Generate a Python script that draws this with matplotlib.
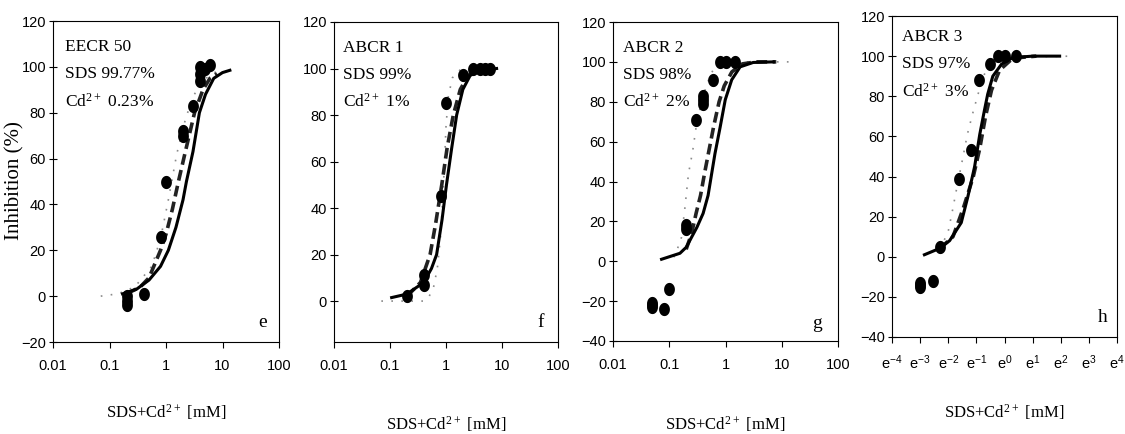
import numpy as np
import matplotlib
matplotlib.use('Agg')
import matplotlib.pyplot as plt
from matplotlib.path import Path
from matplotlib.ticker import FixedLocator, FuncFormatter, NullLocator

plt.rcParams['font.family'] = 'Liberation Sans'
plt.rcParams['mathtext.default'] = 'regular'
SERIF = 'Liberation Serif'

# ---- panel e : EECR 50 ----
e_pts_x = [0.2, 0.2, 0.2, 0.4, 0.8, 1.0, 2.0, 2.0, 3.0, 4.0, 4.0, 4.0, 5.0, 6.0]
e_pts_y = [0, -2, -4, 1, 26, 50, 70, 72, 83, 94, 97, 100, 99, 101]
e_sol_x = [0.17, 0.3, 0.5, 0.8, 1.1, 1.5, 2.0, 2.3, 3.0, 3.9, 5, 7, 10, 13.5]
e_sol_y = [1, 3, 7, 13, 20, 30, 42, 50, 63, 80, 88, 95, 97.5, 98.5]
e_dash_x = [0.2, 0.35, 0.5, 0.8, 1.0, 1.3, 1.66, 2.2, 3.2, 4.5, 6, 8]
e_dash_y = [1, 4, 8, 20, 27, 38, 50, 63, 80, 90, 95, 97]
e_dot_x = [0.07, 0.14, 0.28, 0.56, 0.8, 1.1, 1.55, 2.2, 3.0, 4.5, 6.5, 8]
e_dot_y = [0, 1, 4, 13, 25, 42, 62, 77, 87, 94, 97, 98]

# ---- panel f : ABCR 1 ----
f_pts_x = [0.2, 0.4, 0.4, 0.8, 1.0, 2.0, 3.0, 4.0, 5.0, 6.0]
f_pts_y = [2, 11, 7, 45, 85, 97, 100, 100, 100, 100]
f_sol_x = [0.107, 0.2, 0.4, 0.55, 0.68, 0.85, 1.02, 1.25, 1.55, 2.0, 2.7, 4, 8]
f_sol_y = [1.5, 3, 8, 14, 20, 35, 50, 65, 80, 91, 97, 99, 100]
f_dash_x = [0.2, 0.35, 0.52, 0.65, 0.84, 1.05, 1.35, 1.8, 2.5, 4, 7]
f_dash_y = [2, 8, 20, 33, 50, 66, 80, 91, 97, 99.5, 100]
f_dot_x = [0.07, 0.12, 0.2, 0.3, 0.4, 0.5, 0.6, 0.7, 0.8, 0.88, 0.95, 1.0, 1.1, 1.3, 1.8, 3]
f_dot_y = [0, 0, 0, 0, 0, 2, 6, 14, 28, 45, 62, 75, 88, 96, 99.5, 100]

# ---- panel g : ABCR 2 ----
g_pts_x = [0.05, 0.05, 0.05, 0.08, 0.1, 0.2, 0.2, 0.3, 0.4, 0.4, 0.4, 0.6, 0.8, 1.0, 1.5]
g_pts_y = [-21, -22, -23, -24, -14, 18, 16, 71, 79, 81, 83, 91, 100, 100, 100]
g_sol_x = [0.073, 0.155, 0.2, 0.31, 0.40, 0.49, 0.65, 0.80, 0.99, 1.29, 1.82, 3.1, 7.1]
g_sol_y = [1, 4, 7, 17, 24, 33, 54, 67, 81, 91, 97.5, 99.7, 100]
g_dash_x = [0.2, 0.25, 0.3, 0.36, 0.43, 0.52, 0.62, 0.77, 0.95, 1.3, 2, 3.5, 8]
g_dash_y = [6, 14, 24, 33, 45, 57, 68, 80, 88, 95, 99, 100, 100]
g_dot_x = [0.12, 0.135, 0.165, 0.19, 0.22, 0.26, 0.31, 0.40, 0.53, 0.69, 1.8, 16]
g_dot_y = [2, 5, 12, 27, 44, 55, 70, 83, 93, 99, 100, 100]

# ---- panel h : ABCR 3 ----
h_pts_x = [0.05, 0.05, 0.05, 0.08, 0.1, 0.2, 0.3, 0.4, 0.6, 0.8, 1.0, 1.5]
h_pts_y = [-13, -14, -15, -12, 5, 39, 53, 88, 96, 100, 100, 100]
h_sol_x = [0.058, 0.097, 0.142, 0.215, 0.272, 0.346, 0.415, 0.49, 0.55, 0.66, 0.90, 1.35, 2.75, 7.1]
h_sol_y = [1, 4, 8, 17, 30, 45, 61, 73, 81, 90, 96, 99.3, 100, 100]
h_dash_x = [0.1, 0.16, 0.23, 0.33, 0.415, 0.51, 0.63, 0.84, 1.35, 3.1]
h_dash_y = [4, 10, 24, 40, 54, 70, 83, 93, 99, 100]
h_dot_x = [0.1, 0.134, 0.155, 0.185, 0.223, 0.267, 0.32, 0.39, 0.49, 0.63, 0.90, 12]
h_dot_y = [4, 12, 22, 35, 48, 61, 71, 81, 91, 97, 99.5, 100]

titles = [['EECR 50', 'SDS 99.77%', 'Cd$^{2+}$ 0.23%'],
          ['ABCR 1', 'SDS 99%', 'Cd$^{2+}$ 1%'],
          ['ABCR 2', 'SDS 98%', 'Cd$^{2+}$ 2%'],
          ['ABCR 3', 'SDS 97%', 'Cd$^{2+}$ 3%']]
letters = ['e', 'f', 'g', 'h']
decade_ticks = [0.01, 0.1, 1, 10, 100]
decade_labels = ['0.01', '0.1', '1', '10', '100']
e_powers = [-4, -3, -2, -1, 0, 1, 2, 3, 4]

panels = [
    (e_pts_x, e_pts_y, e_sol_x, e_sol_y, e_dash_x, e_dash_y, e_dot_x, e_dot_y),
    (f_pts_x, f_pts_y, f_sol_x, f_sol_y, f_dash_x, f_dash_y, f_dot_x, f_dot_y),
    (g_pts_x, g_pts_y, g_sol_x, g_sol_y, g_dash_x, g_dash_y, g_dot_x, g_dot_y),
    (h_pts_x, h_pts_y, h_sol_x, h_sol_y, h_dash_x, h_dash_y, h_dot_x, h_dot_y),
]

# slightly tall ellipse marker, like the stretched dots of the original
t = np.linspace(0, 2 * np.pi, 40)
oval = Path(np.column_stack([0.82 * np.cos(t), np.sin(t)]), closed=True)

W, H = 1125, 434
# axes boxes in pixels: left, right, top, bottom
boxes = [(53, 279, 21, 342), (334, 558, 22, 342), (613, 838, 22, 341), (892, 1117, 16, 337)]
ylims = [(-20, 120), (-17.6, 120), (-40, 120), (-40, 120)]
yticks = [np.arange(-20, 121, 20), np.arange(0, 121, 20), np.arange(-40, 121, 20), np.arange(-40, 121, 20)]
text_pos = [(0.053, 0.92), (0.04, 0.92), (0.044, 0.92), (0.044, 0.935)]
letter_pos = [(0.907, 0.06), (0.906, 0.06), (0.884, 0.055), (0.916, 0.062)]
xlab_y = [412, 424, 424, 412]

fig = plt.figure(figsize=(W / 100, H / 100), dpi=100)

for i, (px, py, sx, sy, dx, dy, ox, oy) in enumerate(panels):
    l, r, tp, b = boxes[i]
    ax = fig.add_axes([l / W, (H - b) / H, (r - l) / W, (b - tp) / H])
    ax.plot(ox, oy, color='#8a8a8a', lw=1.2, linestyle=(0, (1, 5)))
    ax.plot(dx, dy, color='#222222', lw=2.6, linestyle=(0, (3, 1.5)))
    ax.plot(sx, sy, color='black', lw=2.2)
    ax.plot(px, py, linestyle='none', marker=oval, color='black', ms=9.5, markeredgewidth=0)

    if i < 3:
        ax.set_xscale('log')
        ax.set_xlim(0.01, 100)
        ax.xaxis.set_major_locator(FixedLocator(decade_ticks))
        ax.set_xticklabels(decade_labels)
    else:
        ax.set_xscale('log', base=np.e)
        ax.set_xlim(np.e ** -4, np.e ** 4)
        ax.xaxis.set_major_locator(FixedLocator([np.e ** k for k in e_powers]))
        ax.xaxis.set_major_formatter(FuncFormatter(
            lambda v, pos: '$e^{%d}$' % round(np.log(v))))
    ax.xaxis.set_minor_locator(NullLocator())
    ax.set_ylim(*ylims[i])
    ax.set_yticks(yticks[i])
    ax.tick_params(axis='x', direction='out', length=4, width=0.8, labelsize=10.5, pad=8)
    ax.tick_params(axis='y', direction='inout', length=6, width=0.8, labelsize=10.5, pad=2)
    for s in ax.spines.values():
        s.set_linewidth(0.8)

    tx, ty = text_pos[i]
    for k, line in enumerate(titles[i]):
        ax.text(tx, ty - k * 0.085, line, transform=ax.transAxes, family=SERIF,
                fontsize=12.5, va='center', ha='left')
    lx, ly = letter_pos[i]
    ax.text(lx, ly, letters[i], transform=ax.transAxes, family=SERIF,
            fontsize=14, va='center', ha='left')

    fig.text((l + r) / 2 / W, (H - xlab_y[i]) / H, 'SDS+Cd$^{2+}$ [mM]',
             family=SERIF, fontsize=12, ha='center', va='center')

fig.text(15 / W, (H - 181) / H, 'Inhibition (%)', family=SERIF, fontsize=15,
         rotation=90, ha='center', va='center')

fig.savefig('out.png', dpi=100)
